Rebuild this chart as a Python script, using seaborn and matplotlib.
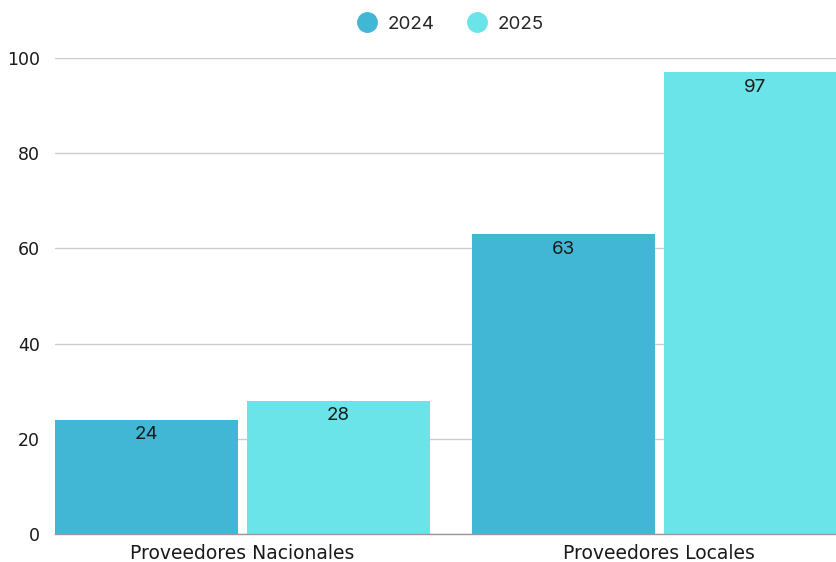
"""Proveedores nacionales vs locales, 2024-2025."""

import matplotlib
matplotlib.use("Agg")
import matplotlib.pyplot as plt
import pandas as pd
import seaborn as sns
from matplotlib.lines import Line2D

categories = ["Proveedores Nacionales", "Proveedores Locales"]
years = ["2024", "2025"]
values_2024 = [24, 63]
values_2025 = [28, 97]
y_ticks = [0, 20, 40, 60, 80, 100]

colors = {"2024": "#42B7D5", "2025": "#6AE4E8"}

df = pd.DataFrame({
    "categoria": categories * 2,
    "anio": [years[0]] * 2 + [years[1]] * 2,
    "valor": values_2024 + values_2025,
})

sns.set_theme(style="white")
plt.rcParams["font.family"] = ["DejaVu Sans"]

fig = plt.figure(figsize=(8.37, 5.62), dpi=100)
ax = fig.add_axes([55 / 837, 28 / 562, 782 / 837, 476 / 562])

sns.barplot(
    data=df, x="categoria", y="valor", hue="anio",
    palette=colors, width=0.92, gap=0.046, saturation=1,
    linewidth=0, legend=False, ax=ax,
)

for container in ax.containers:
    ax.bar_label(container, padding=-17, fontsize=13.5, color="#1a1a1a",
                 family=["Inter", "DejaVu Sans"])

ax.set_ylim(0, 100)
ax.set_xlim(-0.4494, -0.4494 + 782 / 417)
ax.set_yticks(y_ticks)
ax.yaxis.grid(True, color="#cccccc", linewidth=1)
ax.set_axisbelow(True)
for side in ["left", "right", "top"]:
    ax.spines[side].set_visible(False)
ax.spines["bottom"].set_color("#999999")
ax.spines["bottom"].set_linewidth(1)
ax.tick_params(axis="y", length=0, pad=11, labelsize=12.5, labelcolor="#1a1a1a")
ax.tick_params(axis="x", length=0, pad=7, labelsize=13.5, labelcolor="#1a1a1a")
ax.set_xlabel("")
ax.set_ylabel("")

handles = [
    Line2D([0], [0], marker="o", linestyle="", markersize=14,
           markerfacecolor=colors[y], markeredgecolor=colors[y], label=y)
    for y in years
]
fig.legend(handles=handles, loc="center", bbox_to_anchor=(446 / 837, 1 - 24 / 562),
           ncol=2, frameon=False, handletextpad=0.1, columnspacing=1.3,
           prop={"family": ["Inter", "DejaVu Sans"], "size": 13.5})

fig.savefig("out.png", dpi=100)
